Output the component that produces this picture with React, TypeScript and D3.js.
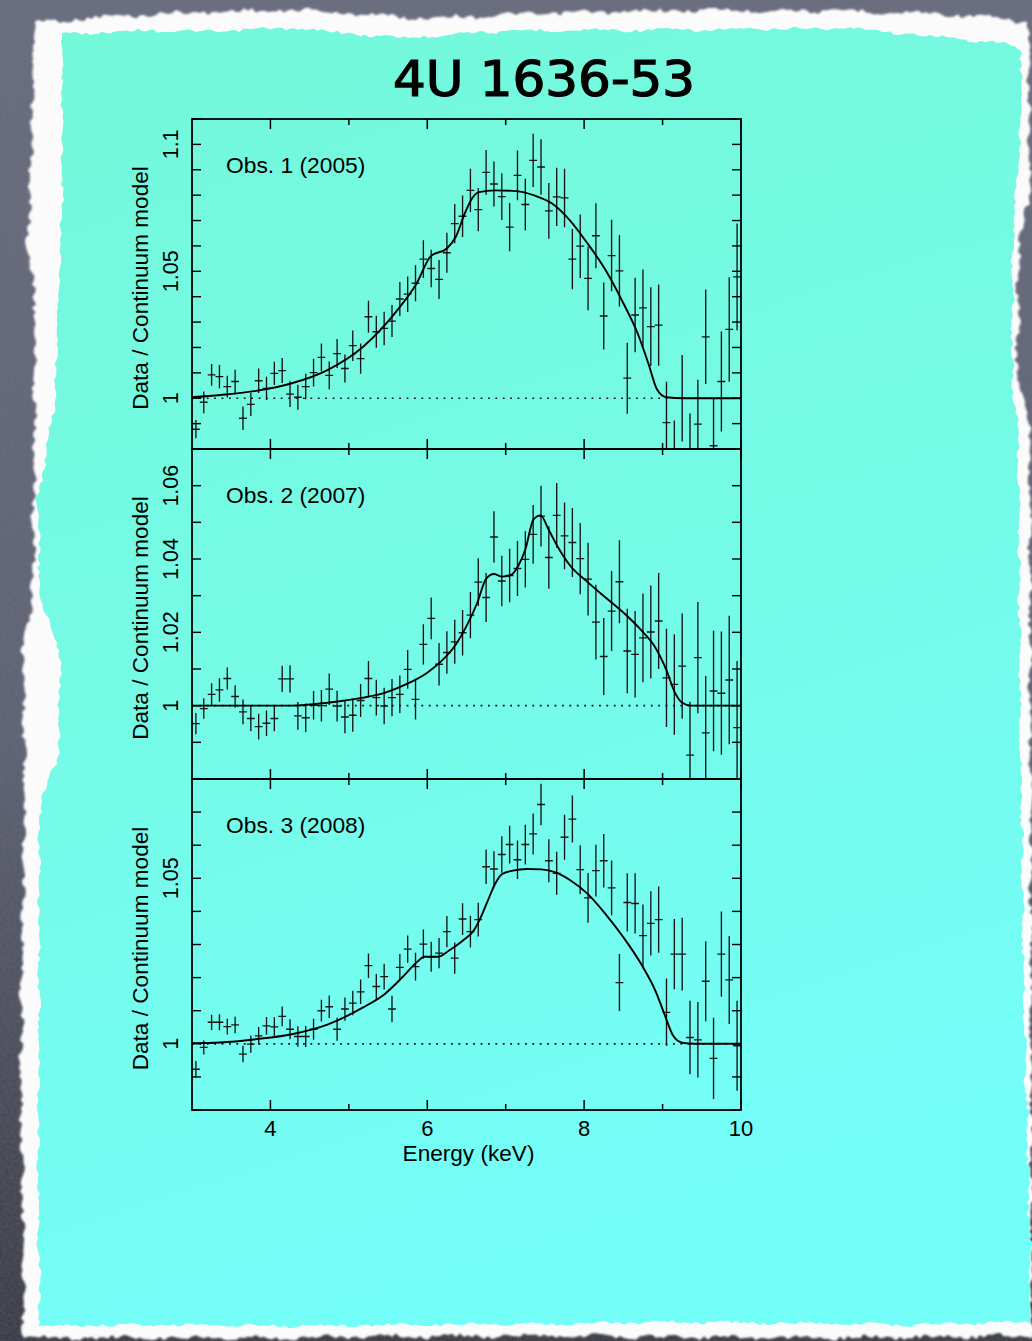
import React from 'react';
import * as d3 from 'd3';

// ---------- DATA ----------
const TITLE = '4U 1636-53';
const X_LABEL = 'Energy (keV)';
const Y_LABEL = 'Data / Continuum model';
const BIN_WIDTH = 0.1;
const FIRST_BIN_CENTER = 3.05;
const N_BINS = 70;
const binCenters = d3.range(N_BINS).map((i) => +(FIRST_BIN_CENTER + BIN_WIDTH * i).toFixed(2));

const xMajorTicks = [4, 6, 8, 10];
const xMinorTicks = [5, 7, 9];

const obsLabels = ['Obs. 1 (2005)', 'Obs. 2 (2007)', 'Obs. 3 (2008)'];

const obs1Ratio = [0.9878, 0.9984, 1.0092, 1.0085, 1.0046, 1.0066, 0.9921, 0.9976, 1.0069, 1.0039,
  1.0098, 1.0109, 1.0016, 1.0004, 1.0046, 1.0101, 1.0161, 1.009, 1.0176, 1.0117,
  1.0207, 1.0156, 1.0321, 1.0262, 1.0275, 1.0304, 1.0391, 1.041, 1.0453, 1.0548,
  1.0511, 1.0468, 1.0573, 1.0688, 1.0717, 1.0819, 1.0743, 1.089, 1.0844, 1.0794,
  1.0674, 1.0878, 1.0763, 1.0937, 1.0911, 1.0738, 1.0793, 1.0789, 1.0548, 1.0599,
  1.0472, 1.064, 1.0324, 1.0562, 1.0502, 1.0079, 1.0328, 1.0356, 1.0282, 1.0288,
  0.9904, 0.9748, 1.0, 0.977, 0.9898, 1.0242, 0.9813, 1.0066, 1.0271, 1.0478];
const obs1Err = [0.0036, 0.0043, 0.0043, 0.0046, 0.0043, 0.0046, 0.0046, 0.0046, 0.0048, 0.0046,
  0.0046, 0.0049, 0.0051, 0.0049, 0.005, 0.0055, 0.0055, 0.0055, 0.0057, 0.0055,
  0.006, 0.006, 0.0063, 0.0063, 0.0066, 0.0063, 0.0067, 0.007, 0.0071, 0.0074,
  0.0074, 0.0077, 0.0079, 0.0077, 0.0082, 0.0085, 0.0085, 0.0088, 0.0089, 0.0092,
  0.0095, 0.0098, 0.0102, 0.0105, 0.0109, 0.011, 0.0115, 0.0115, 0.0119, 0.0125,
  0.0125, 0.0128, 0.0132, 0.0141, 0.0141, 0.014, 0.0147, 0.0151, 0.0155, 0.016,
  0.0161, 0.0164, 0.017, 0.017, 0.0175, 0.0186, 0.0187, 0.0197, 0.0206, 0.021];
const model1E = [3.0, 3.364, 3.818, 4.273, 4.727, 5.182, 5.636, 5.864, 6.045, 6.25, 6.364, 6.477, 6.568, 6.659,
  6.864, 7.136, 7.364, 7.591, 7.818, 8.045, 8.273, 8.5, 8.682, 8.818, 8.932, 9.045, 9.273, 10.0];
const model1V = [1.0004, 1.0013, 1.0029, 1.0059, 1.0111, 1.0203, 1.0354, 1.0452, 1.056, 1.059, 1.0636, 1.0727, 1.0786, 1.0812,
  1.0819, 1.0816, 1.0799, 1.0767, 1.0701, 1.0609, 1.0505, 1.0374, 1.0256, 1.0138, 1.0033, 1.0004, 1.0, 1.0];
const y1Domain = [0.98, 1.11];
const y1Labels = [['1', 1.0], ['1.05', 1.05], ['1.1', 1.1]];

const obs2Ratio = [0.9951, 0.9992, 1.0031, 1.0043, 1.0074, 1.0025, 0.9983, 0.9965, 0.9943, 0.9952,
  0.9965, 1.0073, 1.0073, 0.9972, 0.9967, 1.0001, 1.0, 1.0045, 0.9999, 0.9969,
  0.9974, 1.0014, 1.0074, 1.0022, 0.9999, 1.0022, 1.0031, 1.0099, 1.0017, 1.0167,
  1.0238, 1.0113, 1.0145, 1.0174, 1.0199, 1.0247, 1.0337, 1.0295, 1.046, 1.034,
  1.0355, 1.0374, 1.0399, 1.0467, 1.0517, 1.0404, 1.0519, 1.0463, 1.0445, 1.0401,
  1.0345, 1.0228, 1.0134, 1.0258, 1.0338, 1.0149, 1.014, 1.0185, 1.0201, 1.0231,
  1.0076, 1.0058, 1.0108, 0.9865, 1.0131, 0.9926, 1.004, 1.0034, 1.007, 0.994];
const obs2Err = [0.0029, 0.0028, 0.003, 0.0032, 0.003, 0.0031, 0.0034, 0.0035, 0.0035, 0.0035,
  0.0035, 0.0036, 0.0037, 0.0038, 0.0039, 0.0039, 0.0043, 0.0043, 0.0042, 0.0044,
  0.0045, 0.0045, 0.0048, 0.0049, 0.005, 0.0051, 0.0051, 0.0053, 0.0055, 0.0055,
  0.0057, 0.0058, 0.0058, 0.006, 0.0062, 0.0063, 0.0065, 0.0067, 0.007, 0.0069,
  0.0073, 0.0075, 0.0077, 0.008, 0.0083, 0.0085, 0.0088, 0.0091, 0.0094, 0.0097,
  0.0099, 0.0102, 0.0105, 0.0109, 0.0113, 0.0115, 0.0118, 0.0121, 0.0127, 0.0131,
  0.0134, 0.0137, 0.0144, 0.0146, 0.0152, 0.0155, 0.0164, 0.0168, 0.0175, 0.0182];
const model2E = [3.0, 4.273, 4.727, 5.182, 5.455, 5.727, 6.0, 6.182, 6.364, 6.5, 6.636, 6.75, 6.85, 6.955,
  7.055, 7.159, 7.25, 7.355, 7.445, 7.545, 7.659, 7.818, 8.045, 8.273, 8.5, 8.727, 8.909, 9.045,
  9.159, 9.25, 9.364, 10.0];
const model2V = [1.0, 1.0, 1.0008, 1.0022, 1.0035, 1.0058, 1.009, 1.0122, 1.0167, 1.0217, 1.028, 1.0346, 1.0359, 1.0352,
  1.0355, 1.0381, 1.0426, 1.0508, 1.0519, 1.0481, 1.0435, 1.0383, 1.0337, 1.0295, 1.0254, 1.0206, 1.0158, 1.0099,
  1.0035, 1.0008, 1.0, 1.0];
const y2Domain = [0.98, 1.07];
const y2Labels = [['1', 1.0], ['1.02', 1.02], ['1.04', 1.04], ['1.06', 1.06]];

const obs3Ratio = [0.9923, 0.9989, 1.0065, 1.0065, 1.0052, 1.0057, 0.9969, 0.9999, 1.0024, 1.0054,
  1.0051, 1.0083, 1.0044, 1.0022, 1.0022, 1.0044, 1.01, 1.0112, 1.0044, 1.0105,
  1.0123, 1.0157, 1.0236, 1.0173, 1.0203, 1.0105, 1.0231, 1.0286, 1.0233, 1.0301,
  1.0263, 1.0274, 1.0339, 1.0259, 1.0377, 1.0339, 1.0375, 1.0535, 1.0528, 1.0572,
  1.0602, 1.0556, 1.0602, 1.0634, 1.0723, 1.0553, 1.0515, 1.0624, 1.0679, 1.0526,
  1.0441, 1.0523, 1.0553, 1.0471, 1.0185, 1.0427, 1.0424, 1.0327, 1.0364, 1.0375,
  1.0095, 1.0271, 1.0271, 1.0019, 1.0012, 1.0189, 0.9956, 1.0271, 1.0193, 0.9994];
const obs3Err = [0.0025, 0.0021, 0.0023, 0.0024, 0.0024, 0.0025, 0.0025, 0.0026, 0.0027, 0.0027,
  0.0029, 0.003, 0.003, 0.0031, 0.0032, 0.0032, 0.0033, 0.0034, 0.0035, 0.0035,
  0.0037, 0.0037, 0.0037, 0.0038, 0.0039, 0.004, 0.004, 0.0041, 0.0042, 0.0044,
  0.0045, 0.0046, 0.0047, 0.0047, 0.0048, 0.0048, 0.0051, 0.0052, 0.0054, 0.0055,
  0.0057, 0.0058, 0.006, 0.0062, 0.0063, 0.0065, 0.0065, 0.0068, 0.0071, 0.0074,
  0.0075, 0.0078, 0.0081, 0.0083, 0.0086, 0.0088, 0.0091, 0.0094, 0.0097, 0.01,
  0.0102, 0.0106, 0.011, 0.0111, 0.0114, 0.0121, 0.0123, 0.0129, 0.0133, 0.0136];
const model3E = [3.0, 3.364, 3.818, 4.273, 4.727, 5.182, 5.455, 5.682, 5.864, 5.964, 6.136, 6.273, 6.455, 6.591,
  6.682, 6.773, 6.864, 6.955, 7.091, 7.273, 7.455, 7.636, 7.818, 8.045, 8.273, 8.5, 8.727, 8.909,
  9.023, 9.136, 9.25, 9.409, 10.0];
const model3V = [1.0002, 1.0004, 1.0014, 1.0029, 1.0058, 1.011, 1.015, 1.0201, 1.0246, 1.0263, 1.0263, 1.0281, 1.0312, 1.0342,
  1.0382, 1.0433, 1.0483, 1.0513, 1.0523, 1.0528, 1.0527, 1.0518, 1.0495, 1.0453, 1.0392, 1.0322, 1.0241, 1.016,
  1.009, 1.0024, 1.0003, 1.0, 1.0];
const y3Domain = [0.98, 1.08];
const y3Labels = [['1', 1.0], ['1.05', 1.05]];

// ---------- LAYOUT ----------
const W = 1032;
const H = 1341;
const PLOT_LEFT = 192;
const PLOT_RIGHT = 741;
const panelTops = [119, 449, 779];
const panelBottoms = [449, 779, 1110];
const FONT = "'Liberation Sans', Arial, Helvetica, sans-serif";

const panels = [
  { label: obsLabels[0], ratio: obs1Ratio, err: obs1Err, mE: model1E, mV: model1V, domain: y1Domain, yl: y1Labels },
  { label: obsLabels[1], ratio: obs2Ratio, err: obs2Err, mE: model2E, mV: model2V, domain: y2Domain, yl: y2Labels },
  { label: obsLabels[2], ratio: obs3Ratio, err: obs3Err, mE: model3E, mV: model3V, domain: y3Domain, yl: y3Labels },
];

// deterministic torn-edge helper (decoration only)
function hash(n: number) {
  const s = Math.sin(n * 12.9898 + 78.233) * 43758.5453;
  return s - Math.floor(s);
}
function jagged(pts: number[][], amp: number, seed: number, step = 4) {
  const out: string[] = [];
  let k = 0;
  for (let i = 0; i < pts.length; i++) {
    const [x0, y0] = pts[i];
    const [x1, y1] = pts[(i + 1) % pts.length];
    const len = Math.hypot(x1 - x0, y1 - y0);
    const n = Math.max(1, Math.round(len / step));
    const nx = -(y1 - y0) / len;
    const ny = (x1 - x0) / len;
    for (let j = 0; j < n; j++) {
      const t = j / n;
      k++;
      const d = amp * (hash(k + seed) - 0.5) * 2 + amp * 0.6 * Math.sin((k + seed) * 0.37);
      const x = x0 + (x1 - x0) * t + nx * d;
      const y = y0 + (y1 - y0) * t + ny * d;
      out.push(`${x.toFixed(1)},${y.toFixed(1)}`);
    }
  }
  return 'M' + out.join('L') + 'Z';
}

const outerPts = [[35, 22], [120, 16], [200, 12], [300, 10], [420, 18], [560, 13], [700, 10], [850, 11], [950, 14],
  [1028, 22], [1030, 200], [1019, 240], [1017, 380], [1030, 420], [1031, 800], [1032, 1336], [800, 1338],
  [500, 1336], [200, 1338], [24, 1338], [21, 1100], [24, 800], [24, 640], [33, 600], [35, 300], [28, 250]];
const innerPts = [[62, 34], [150, 30], [200, 32], [290, 28], [400, 38], [480, 32], [560, 30], [700, 30], [850, 28],
  [950, 38], [1000, 43], [1022, 50], [1020, 150], [1013, 230], [1012, 380], [1018, 420], [1020, 700],
  [1024, 1000], [1030, 1250], [1030, 1322], [900, 1325], [700, 1322], [500, 1324], [300, 1326], [150, 1325],
  [40, 1326], [38, 1150], [40, 800], [58, 760], [60, 650], [40, 600], [38, 500], [55, 400], [62, 200]];

export default function App() {
  const x = d3.scaleLinear().domain([3, 10]).range([PLOT_LEFT, PLOT_RIGHT]);
  const outerPath = jagged(outerPts, 2.2, 11);
  const innerPath = jagged(innerPts, 1.6, 97);

  return (
    <svg width={W} height={H} viewBox={`0 0 ${W} ${H}`}
      style={{ position: 'absolute', left: 0, top: 0, display: 'block' }}>
      <defs>
        <linearGradient id="bgGray" x1="0" y1="0" x2="0" y2="1">
          <stop offset="0" stopColor="#676b7c" />
          <stop offset="0.55" stopColor="#5c6071" />
          <stop offset="1" stopColor="#34363f" />
        </linearGradient>
        <linearGradient id="paper" x1="0" y1="0" x2="0.25" y2="1">
          <stop offset="0" stopColor="#74f8da" />
          <stop offset="0.5" stopColor="#75fae6" />
          <stop offset="1" stopColor="#74fef8" />
        </linearGradient>
        <filter id="noise" x="0" y="0" width="100%" height="100%">
          <feTurbulence type="fractalNoise" baseFrequency="0.35" numOctaves="2" seed="3" />
          <feColorMatrix type="matrix" values="0 0 0 0 0.2  0 0 0 0 0.2  0 0 0 0 0.25  0 0 0 0.35 0" />
        </filter>
        <filter id="soft" x="-5%" y="-5%" width="110%" height="110%">
          <feGaussianBlur stdDeviation="0.9" />
        </filter>
        {panelTops.map((t, i) => (
          <clipPath id={`clip${i}`} key={i}>
            <rect x={PLOT_LEFT} y={t} width={PLOT_RIGHT - PLOT_LEFT} height={panelBottoms[i] - t} />
          </clipPath>
        ))}
      </defs>

      {/* background */}
      <rect x={0} y={0} width={W} height={H} fill="url(#bgGray)" />
      <rect x={0} y={0} width={W} height={H} filter="url(#noise)" />
      <path d={outerPath} fill="#fbfbfb" filter="url(#soft)" />
      <path d={innerPath} fill="url(#paper)" />

      {/* title */}
      <text x={544} y={96} textAnchor="middle" fontFamily="'DejaVu Sans Condensed', 'DejaVu Sans', sans-serif"
        fontWeight={400} fontSize={50} textLength={302} lengthAdjust="spacingAndGlyphs" fill="#000"
        stroke="#000" strokeWidth={1.2}>{TITLE}</text>

      {panels.map((p, pi) => {
        const top = panelTops[pi];
        const bottom = panelBottoms[pi];
        const y = d3.scaleLinear().domain(p.domain).range([bottom, top]);
        const minor = d3.range(Math.ceil(p.domain[0] * 100), Math.floor(p.domain[1] * 100 + 1e-6) + 1).map((v) => v / 100);
        const line = d3.line<number>().x((d, i) => x(p.mE[i])).y((d) => y(d)).curve(d3.curveMonotoneX);
        const mid = (top + bottom) / 2;
        const bars = binCenters.map((e, i) => {
          const v = p.ratio[i];
          const er = p.err[i];
          return `M${x(e - BIN_WIDTH / 2)},${y(v)}H${x(e + BIN_WIDTH / 2)}M${x(e)},${y(v - er)}V${y(v + er)}`;
        }).join('');
        return (
          <g key={pi}>
            <g clipPath={`url(#clip${pi})`}>
              <line x1={PLOT_LEFT} x2={PLOT_RIGHT} y1={y(1)} y2={y(1)} stroke="#111" strokeWidth={1.7}
                strokeDasharray="1.8 5.6" />
              <path d={bars} stroke="#151515" strokeWidth={1.35} fill="none" />
              <path d={line(p.mV) || ''} stroke="#000" strokeWidth={1.9} fill="none" />
            </g>
            {/* y ticks */}
            {minor.map((v, k) => (
              <g key={k}>
                <line x1={PLOT_LEFT} x2={PLOT_LEFT + 9} y1={y(v)} y2={y(v)} stroke="#000" strokeWidth={1.4} />
                <line x1={PLOT_RIGHT - 9} x2={PLOT_RIGHT} y1={y(v)} y2={y(v)} stroke="#000" strokeWidth={1.4} />
              </g>
            ))}
            {/* x ticks */}
            {xMajorTicks.concat(xMinorTicks).map((t) => {
              const len = xMajorTicks.includes(t) ? 10 : 6;
              return (
                <g key={t}>
                  <line x1={x(t)} x2={x(t)} y1={bottom} y2={bottom - len} stroke="#000" strokeWidth={1.5} />
                  <line x1={x(t)} x2={x(t)} y1={top} y2={top + len} stroke="#000" strokeWidth={1.5} />
                </g>
              );
            })}
            <rect x={PLOT_LEFT} y={top} width={PLOT_RIGHT - PLOT_LEFT} height={bottom - top} fill="none"
              stroke="#000" strokeWidth={1.8} />
            {/* y tick labels */}
            {p.yl.map(([lab, v]) => (
              <text key={lab as string} transform={`translate(178,${y(v as number)}) rotate(-90)`} textAnchor="middle"
                fontFamily={FONT} fontSize={21.5} fill="#000">{lab}</text>
            ))}
            <text transform={`translate(148,${mid + 4}) rotate(-90)`} textAnchor="middle" fontFamily={FONT}
              fontSize={22.6} fill="#000">{Y_LABEL}</text>
            <text x={226} y={top + 54} fontFamily={FONT} fontSize={22.8} fill="#000">{p.label}</text>
          </g>
        );
      })}

      {/* x tick labels */}
      {xMajorTicks.map((t) => (
        <text key={t} x={x(t)} y={1136} textAnchor="middle" fontFamily={FONT} fontSize={22} fill="#000">{t}</text>
      ))}
      <text x={(PLOT_LEFT + PLOT_RIGHT) / 2 + 2} y={1161} textAnchor="middle" fontFamily={FONT} fontSize={22.6}
        fill="#000">{X_LABEL}</text>
    </svg>
  );
}
